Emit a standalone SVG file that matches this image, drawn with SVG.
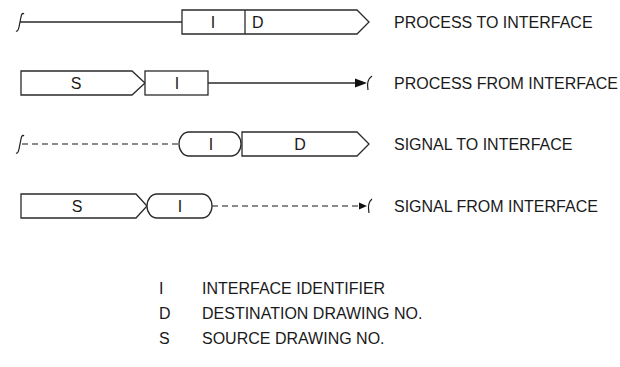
<svg xmlns="http://www.w3.org/2000/svg" width="620" height="367" viewBox="0 0 620 367">
<style>
text{font-family:"Liberation Sans",Arial,sans-serif;font-size:16px;fill:#1a1a1a}
.box{fill:#fff;stroke:#2a2a2a;stroke-width:1.3}
.solid{fill:none;stroke:#2a2a2a;stroke-width:1.3}
.dash{fill:none;stroke:#666;stroke-width:1.3;stroke-dasharray:6 4}
.sq{fill:none;stroke:#1a1a1a;stroke-width:1.2}
.c{text-anchor:middle}
</style>
<rect width="620" height="367" fill="#fff"/>
<g id="connectors">
<line class="solid" x1="20" y1="22" x2="182" y2="22"/>
<path class="sq" d="M16,31 Q18,32 19,27 L21,17 Q22,12 24,14"/>
<line class="solid" x1="208" y1="83" x2="357" y2="83"/>
<path d="M355,78.5 L367,83 L355,87.5 Z" fill="#111"/>
<path class="sq" d="M372,76 Q366,80 368,90"/>
<line class="dash" x1="212" y1="206" x2="360" y2="206"/>
<line class="dash" x1="22" y1="144" x2="179" y2="144"/>
<path class="sq" d="M16,153 Q18,154 19,149 L21,139 Q22,134 24,136"/>
<path d="M359,202.5 L367,206 L359,209.5 Z" fill="#111"/>
<path class="sq" d="M372,199 Q367,203 369,213"/>
</g>
<g id="row1">
<path class="box" d="M182,10 H357 L369,22 L357,34 H182 Z"/>
<line class="solid" x1="245" y1="10" x2="245" y2="34"/>
<text class="c" x="213" y="28">I</text>
<text x="252" y="28">D</text>
<text x="394" y="28">PROCESS TO INTERFACE</text>
</g>
<g id="row2">
<path class="box" d="M21,71 H132 L145,83 L132,95 H21 Z"/>
<rect class="box" x="145" y="71" width="63" height="24"/>
<text class="c" x="76" y="89">S</text>
<text class="c" x="177" y="89">I</text>
<text x="394" y="89">PROCESS FROM INTERFACE</text>
</g>
<g id="row3">
<path class="box" d="M189,132 H231 A10,12 0 0 1 231,156 H189 A10,12 0 0 1 189,132 Z"/>
<path class="box" d="M242,132 H357 L369,144 L357,156 H242 Z"/>
<text class="c" x="211" y="150">I</text>
<text class="c" x="300" y="150">D</text>
<text x="394" y="150">SIGNAL TO INTERFACE</text>
</g>
<g id="row4">
<path class="box" d="M21,194 H136 L147,206 L136,218 H21 Z"/>
<path class="box" d="M157,194 H202 A10,12 0 0 1 202,218 H157 A10,12 0 0 1 157,194 Z"/>
<text class="c" x="77" y="212">S</text>
<text class="c" x="180" y="212">I</text>
<text x="394" y="212">SIGNAL FROM INTERFACE</text>
</g>
<g id="legend">
<text x="159" y="294">I</text>
<text x="202" y="294">INTERFACE IDENTIFIER</text>
<text x="159" y="319">D</text>
<text x="202" y="319">DESTINATION DRAWING NO.</text>
<text x="159" y="344">S</text>
<text x="202" y="344">SOURCE DRAWING NO.</text>
</g>
</svg>
